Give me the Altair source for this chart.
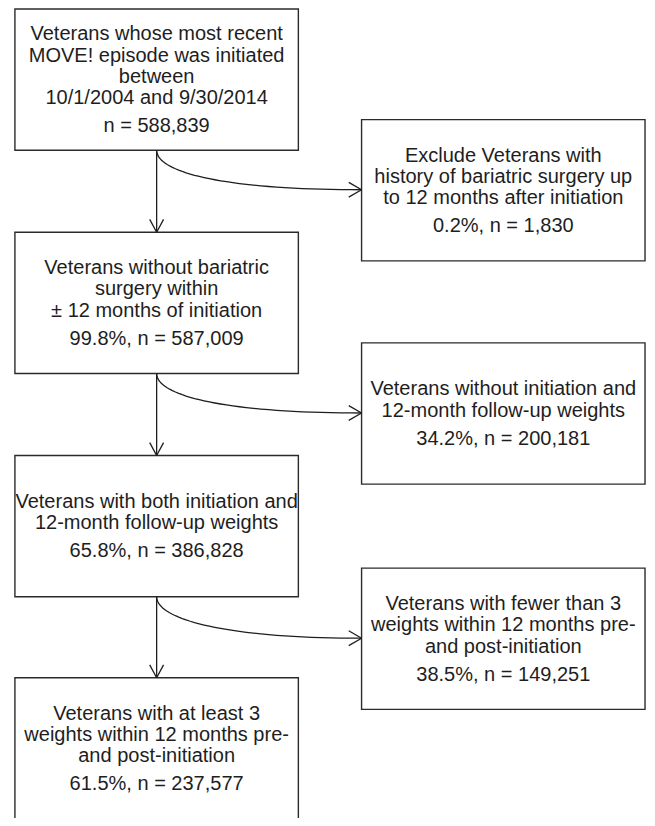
import altair as alt
import numpy as np
import pandas as pd

# ---- content (flowchart data) ----
left_titles = [
    ["Veterans whose most recent", "MOVE! episode was initiated", "between", "10/1/2004 and 9/30/2014"],
    ["Veterans without bariatric", "surgery within", "\u00b1 12 months of initiation"],
    ["Veterans with both initiation and", "12-month follow-up weights"],
    ["Veterans with at least 3", "weights within 12 months pre-", "and post-initiation"],
]
left_counts = ["n = 588,839", "99.8%, n = 587,009", "65.8%, n = 386,828", "61.5%, n = 237,577"]

right_titles = [
    ["Exclude Veterans with", "history of bariatric surgery up", "to 12 months after initiation"],
    ["Veterans without initiation and", "12-month follow-up weights"],
    ["Veterans with fewer than 3", "weights within 12 months pre-", "and post-initiation"],
]
right_counts = ["0.2%, n = 1,830", "34.2%, n = 200,181", "38.5%, n = 149,251"]

# ---- layout (pixel positions of the reference drawing) ----
LEFT_X = (15, 302)
RIGHT_X = (366, 653)
left_tops = [7, 233, 459, 684]
right_tops = [119, 345, 573]
BOX_H = 143
LINE_GAP = 21.5
COUNT_GAP = 28.5
CAP = 13.5

boxes, texts, rules, curves = [], [], [], []


def add_box(x0, x1, top, lines, count):
    boxes.append(dict(x=x0, x2=x1, y=top, y2=top + BOX_H))
    cx = (x0 + x1) / 2
    center = top + BOX_H / 2
    k = len(lines)
    block = CAP + LINE_GAP * (k - 1) + COUNT_GAP
    b = center - block / 2 + CAP
    for i, ln in enumerate(lines):
        texts.append(dict(x=cx, y=b + i * LINE_GAP, t=ln))
    texts.append(dict(x=cx, y=b + (k - 1) * LINE_GAP + COUNT_GAP, t=count))


for top, lines, cnt in zip(left_tops, left_titles, left_counts):
    add_box(LEFT_X[0], LEFT_X[1], top, lines, cnt)
for top, lines, cnt in zip(right_tops, right_titles, right_counts):
    add_box(RIGHT_X[0], RIGHT_X[1], top, lines, cnt)

cx_left = (LEFT_X[0] + LEFT_X[1]) / 2
t = np.linspace(0, 1, 40)
for i in range(3):
    y_start = left_tops[i] + BOX_H
    y_end = left_tops[i + 1]
    # vertical arrow
    rules.append(dict(x=cx_left, y=y_start, x2=cx_left, y2=y_end))
    rules.append(dict(x=cx_left - 7, y=y_end - 13, x2=cx_left, y2=y_end))
    rules.append(dict(x=cx_left + 7, y=y_end - 13, x2=cx_left, y2=y_end))
    # curved arrow to exclusion box
    ya = right_tops[i] + BOX_H / 2 - 0.5
    p0 = (cx_left, y_start)
    p1 = (cx_left, y_start + 22)
    p2 = (cx_left + 66, ya)
    p3 = (RIGHT_X[0], ya)
    bx = (1 - t) ** 3 * p0[0] + 3 * (1 - t) ** 2 * t * p1[0] + 3 * (1 - t) * t ** 2 * p2[0] + t ** 3 * p3[0]
    by = (1 - t) ** 3 * p0[1] + 3 * (1 - t) ** 2 * t * p1[1] + 3 * (1 - t) * t ** 2 * p2[1] + t ** 3 * p3[1]
    for j, (xx, yy) in enumerate(zip(bx, by)):
        curves.append(dict(id=i, o=j, x=xx, y=yy))
    rules.append(dict(x=RIGHT_X[0] - 13, y=ya - 7.5, x2=RIGHT_X[0], y2=ya))
    rules.append(dict(x=RIGHT_X[0] - 13, y=ya + 7.5, x2=RIGHT_X[0], y2=ya))

xs = alt.Scale(domain=[8, 655], nice=False, zero=False)
ys = alt.Scale(domain=[6, 826], nice=False, zero=False, reverse=True)
X = lambda f="x": alt.X(f"{f}:Q", scale=xs, axis=None)
Y = lambda f="y": alt.Y(f"{f}:Q", scale=ys, axis=None)

INK = "#1e1e1e"

rect_layer = alt.Chart(pd.DataFrame(boxes)).mark_rect(
    fill="white", stroke="#2b2b2b", strokeWidth=1.4, clip=True
).encode(x=X(), x2="x2:Q", y=Y(), y2="y2:Q")

rule_layer = alt.Chart(pd.DataFrame(rules)).mark_rule(
    color=INK, strokeWidth=1.3
).encode(x=X(), x2="x2:Q", y=Y(), y2="y2:Q")

curve_layer = alt.Chart(pd.DataFrame(curves)).mark_line(
    color=INK, strokeWidth=1.3
).encode(x=X(), y=Y(), detail="id:N", order="o:Q")

text_layer = alt.Chart(pd.DataFrame(texts)).mark_text(
    align="center", baseline="alphabetic", font="Liberation Sans", fontSize=20, color=INK
).encode(x=X(), y=Y(), text="t:N")

chart = alt.layer(rect_layer, rule_layer, curve_layer, text_layer).properties(
    width=639, height=810, padding=0, autosize=alt.AutoSizeParams(type="none")
).configure(background="white", view=alt.ViewConfig(stroke=None))

chart.save("out.html", embed_options={"renderer": "svg", "actions": False})
